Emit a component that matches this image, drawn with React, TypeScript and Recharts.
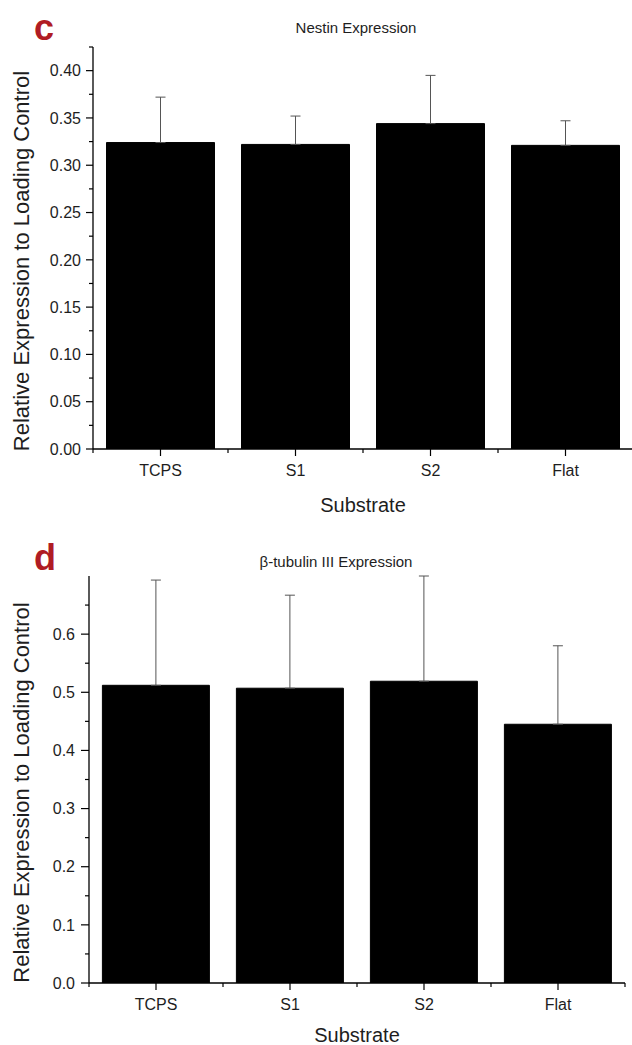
import { Bar, BarChart, ErrorBar, XAxis, YAxis } from "recharts";

const categories = ["TCPS", "S1", "S2", "Flat"];

// panel c : Nestin
const nestinMean = [0.324, 0.322, 0.344, 0.321];
const nestinErr = [0.048, 0.03, 0.051, 0.026];
const nestinTicks = [
  0, 0.025, 0.05, 0.075, 0.1, 0.125, 0.15, 0.175, 0.2, 0.225, 0.25, 0.275, 0.3, 0.325, 0.35, 0.375, 0.4, 0.425,
];
const nestinMajor = [0, 0.05, 0.1, 0.15, 0.2, 0.25, 0.3, 0.35, 0.4];

// panel d : beta-tubulin III
const tubulinMean = [0.512, 0.507, 0.519, 0.445];
const tubulinErr = [0.181, 0.16, 0.181, 0.135];
const tubulinTicks = [0, 0.05, 0.1, 0.15, 0.2, 0.25, 0.3, 0.35, 0.4, 0.45, 0.5, 0.55, 0.6, 0.65];
const tubulinMajor = [0, 0.1, 0.2, 0.3, 0.4, 0.5, 0.6];

const FONT = "'Liberation Sans', Arial, sans-serif";
const INK = "#1e1e1e";
const PANEL_RED = "#b01c24";

function buildRows(mean: number[], err: number[]) {
  return categories.map((name, i) => ({ name, value: mean[i], err: [0, err[i]] }));
}

function makeYTick(majors: number[], digits: number, majorLen: number, gap: number) {
  return (props: any) => {
    const { x, y, payload } = props;
    const v = payload.value as number;
    const isMajor = majors.some((m) => Math.abs(m - v) < 1e-6);
    return (
      <g>
        <line x1={x - (isMajor ? majorLen : 4)} x2={x} y1={y} y2={y} stroke="#000" strokeWidth={1.2} />
        {isMajor && (
          <text x={x - gap} y={y} dy="0.36em" textAnchor="end" fontSize={16} fill={INK} fontFamily={FONT}>
            {v.toFixed(digits)}
          </text>
        )}
      </g>
    );
  };
}

function makeXTick(fallbackHalf: number) {
  return (props: any) => {
    const { x, y, payload, index } = props;
    const half = payload && payload.offset > 0 ? payload.offset : fallbackHalf;
    return (
      <g>
        <line x1={x} x2={x} y1={y} y2={y + 7} stroke="#000" strokeWidth={1.2} />
        <line x1={x + half} x2={x + half} y1={y} y2={y + 4} stroke="#000" strokeWidth={1.2} />
        {index === 0 && <line x1={x - half} x2={x - half} y1={y} y2={y + 4} stroke="#000" strokeWidth={1.2} />}
        <text x={x} y={y + 27} textAnchor="middle" fontSize={16} fill={INK} fontFamily={FONT}>
          {payload.value}
        </text>
      </g>
    );
  };
}

interface PanelProps {
  letter: string;
  title: string;
  titleX: number;
  titleTop: number;
  mean: number[];
  err: number[];
  ticks: number[];
  majors: number[];
  digits: number;
  yMax: number;
  height: number;
  top: number;
  plotTop: number;
  yAxisWidth: number;
  rightMargin: number;
  xAxisHeight: number;
  xLabelOffset: number;
  majorLen: number;
  gap: number;
}

function Panel(p: PanelProps) {
  const data = buildRows(p.mean, p.err);
  const width = 640;
  const plotW = width - p.yAxisWidth - p.rightMargin;
  return (
    <div style={{ position: "absolute", left: 0, top: p.top, width, height: p.height }}>
      <div
        style={{
          position: "absolute",
          left: 34,
          top: 8,
          fontFamily: FONT,
          fontWeight: 700,
          fontSize: 36,
          lineHeight: "40px",
          color: PANEL_RED,
        }}
      >
        {p.letter}
      </div>
      <div
        style={{
          position: "absolute",
          left: p.titleX - 200,
          width: 400,
          top: p.titleTop,
          textAlign: "center",
          fontFamily: FONT,
          fontSize: 15,
          lineHeight: "24px",
          color: INK,
        }}
      >
        {p.title}
      </div>
      <BarChart
        width={width}
        height={p.height}
        data={data}
        margin={{ top: p.plotTop, right: p.rightMargin, bottom: 0, left: 0 }}
        barCategoryGap="10%"
      >
        <XAxis
          dataKey="name"
          height={p.xAxisHeight}
          tickLine={false}
          tickSize={0}
          tickMargin={0}
          interval={0}
          axisLine={{ stroke: "#000", strokeWidth: 1.3 }}
          tick={makeXTick(plotW / categories.length / 2)}
          label={(lp: any) => {
            const vb = lp.viewBox || {};
            return (
              <text
                x={vb.x + vb.width / 2}
                y={vb.y + p.xLabelOffset}
                textAnchor="middle"
                fontSize={20}
                fill={INK}
                fontFamily={FONT}
              >
                Substrate
              </text>
            );
          }}
        />
        <YAxis
          width={p.yAxisWidth}
          domain={[0, p.yMax]}
          ticks={p.ticks}
          interval={0}
          allowDataOverflow
          tickLine={false}
          tickSize={0}
          tickMargin={0}
          axisLine={{ stroke: "#000", strokeWidth: 1.3 }}
          tick={makeYTick(p.majors, p.digits, p.majorLen, p.gap)}
          label={(lp: any) => {
            const vb = lp.viewBox || {};
            const cx = 21;
            const cy = vb.y + vb.height / 2 + 13;
            return (
              <text
                x={cx}
                y={cy}
                transform={`rotate(-90, ${cx}, ${cy})`}
                textAnchor="middle"
                dominantBaseline="central"
                fontSize={22}
                fill={INK}
                fontFamily={FONT}
              >
                Relative Expression to Loading Control
              </text>
            );
          }}
        />
        <Bar dataKey="value" fill="#000" stroke="#000" isAnimationActive={false}>
          <ErrorBar dataKey="err" direction="y" width={5} stroke="#555" strokeWidth={1} isAnimationActive={false} />
        </Bar>
      </BarChart>
    </div>
  );
}

export default function App() {
  return (
    <div
      style={{
        position: "absolute",
        left: 0,
        top: 0,
        width: 632,
        height: 1045,
        overflow: "hidden",
        background: "#fff",
      }}
    >
      <Panel
        letter="c"
        title="Nestin Expression"
        titleX={356}
        titleTop={16}
        mean={nestinMean}
        err={nestinErr}
        ticks={nestinTicks}
        majors={nestinMajor}
        digits={2}
        yMax={0.425}
        height={525}
        top={0}
        plotTop={47}
        yAxisWidth={93}
        rightMargin={7}
        xAxisHeight={76}
        xLabelOffset={63}
        majorLen={7}
        gap={12}
      />
      <Panel
        letter="d"
        title="β-tubulin III Expression"
        titleX={336}
        titleTop={20}
        mean={tubulinMean}
        err={tubulinErr}
        ticks={tubulinTicks}
        majors={tubulinMajor}
        digits={1}
        yMax={0.7}
        height={515}
        top={530}
        plotTop={46}
        yAxisWidth={89}
        rightMargin={15}
        xAxisHeight={62}
        xLabelOffset={59}
        majorLen={8}
        gap={14}
      />
    </div>
  );
}
